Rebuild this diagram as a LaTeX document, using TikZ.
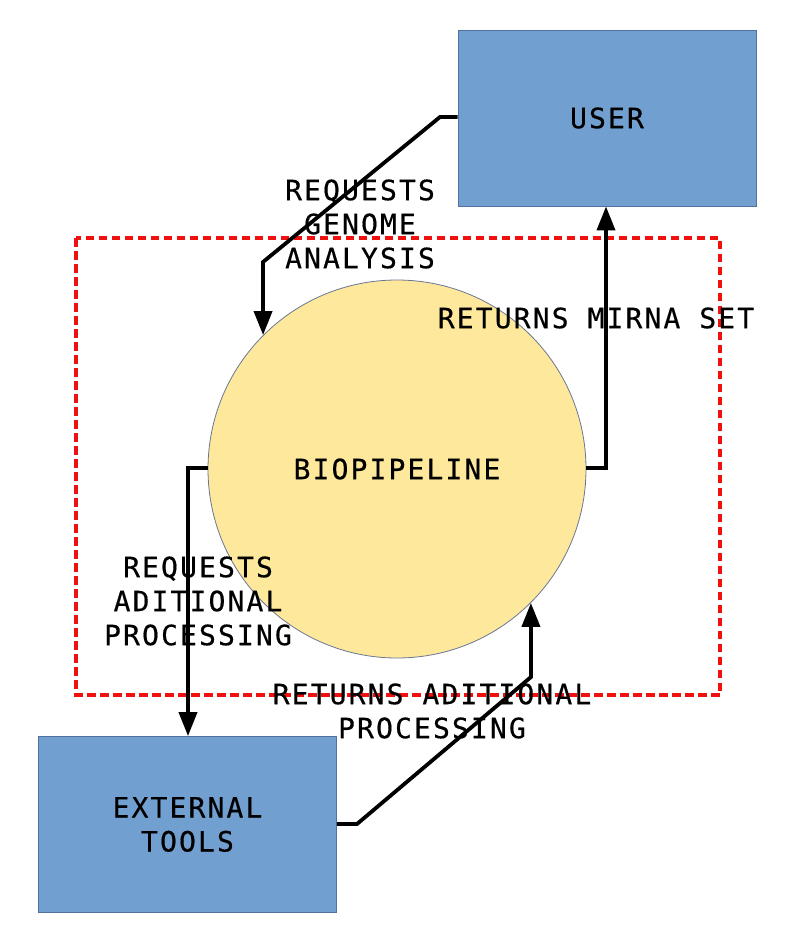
\documentclass[tikz,border=0pt]{standalone}
\usepackage{fontspec}
\usetikzlibrary{arrows.meta}
\newfontfamily\diafont[LetterSpace=7.6,FakeBold=0.4]{DejaVu Sans Mono}
\definecolor{boxblue}{HTML}{719FCF}
\definecolor{boxedge}{HTML}{4F739E}
\definecolor{bioyellow}{HTML}{FEE89B}
\definecolor{bioedge}{HTML}{6A7694}
\definecolor{dashred}{HTML}{F01010}
\tikzset{
  txt/.style={font=\diafont\fontsize{28}{34}\selectfont, align=center, inner sep=0pt},
  entity/.style={rectangle, draw=boxedge, line width=0.8pt, fill=boxblue, minimum width=298pt, minimum height=176pt, inner sep=0pt, txt},
  process/.style={circle, draw=bioedge, line width=0.8pt, fill=bioyellow, minimum size=378pt, inner sep=0pt, txt},
  flow/.style={draw=black, line width=3.8pt, -{Triangle[length=24pt,width=18pt]}},
  boundary/.style={draw=dashred, line width=4.5pt, dash pattern=on 8.5pt off 4.5pt}
}
\begin{document}
\begin{tikzpicture}[x=1pt,y=-1pt]
\useasboundingbox (0,0) rectangle (794,945);
\draw[boundary] (76,238) rectangle (720,695);
\node[entity] (user) at (607,118) {USER};
\node[entity] (ext) at (187.5,824.5) {EXTERNAL\\TOOLS};
\node[process] (bio) at (397,469) {BIOPIPELINE};
\coordinate (c1) at (440,117);
\coordinate (c2) at (263,262);
\coordinate (c3) at (606,468);
\coordinate (c4) at (188,468);
\coordinate (c5) at (357,824);
\coordinate (c6) at (531,677);
\draw[flow] (user.west |- c1) -- (c1) -- (c2) -- (bio.135);
\draw[flow] (bio.east |- c3) -- (c3) -- (c3 |- user.south);
\draw[flow] (bio.west |- c4) -- (c4) -- (c4 |- ext.north);
\draw[flow] (ext.east |- c5) -- (c5) -- (c6) -- (bio.-45);
\node[txt] (l1) at (360,224) {REQUESTS\\GENOME\\ANALYSIS};
\node[txt] (l2) at (596,318) {RETURNS MIRNA SET};
\node[txt] (l3) at (198,601) {REQUESTS\\ADITIONAL\\PROCESSING};
\node[txt] (l4) at (432,711) {RETURNS ADITIONAL\\PROCESSING};
\end{tikzpicture}
\end{document}
